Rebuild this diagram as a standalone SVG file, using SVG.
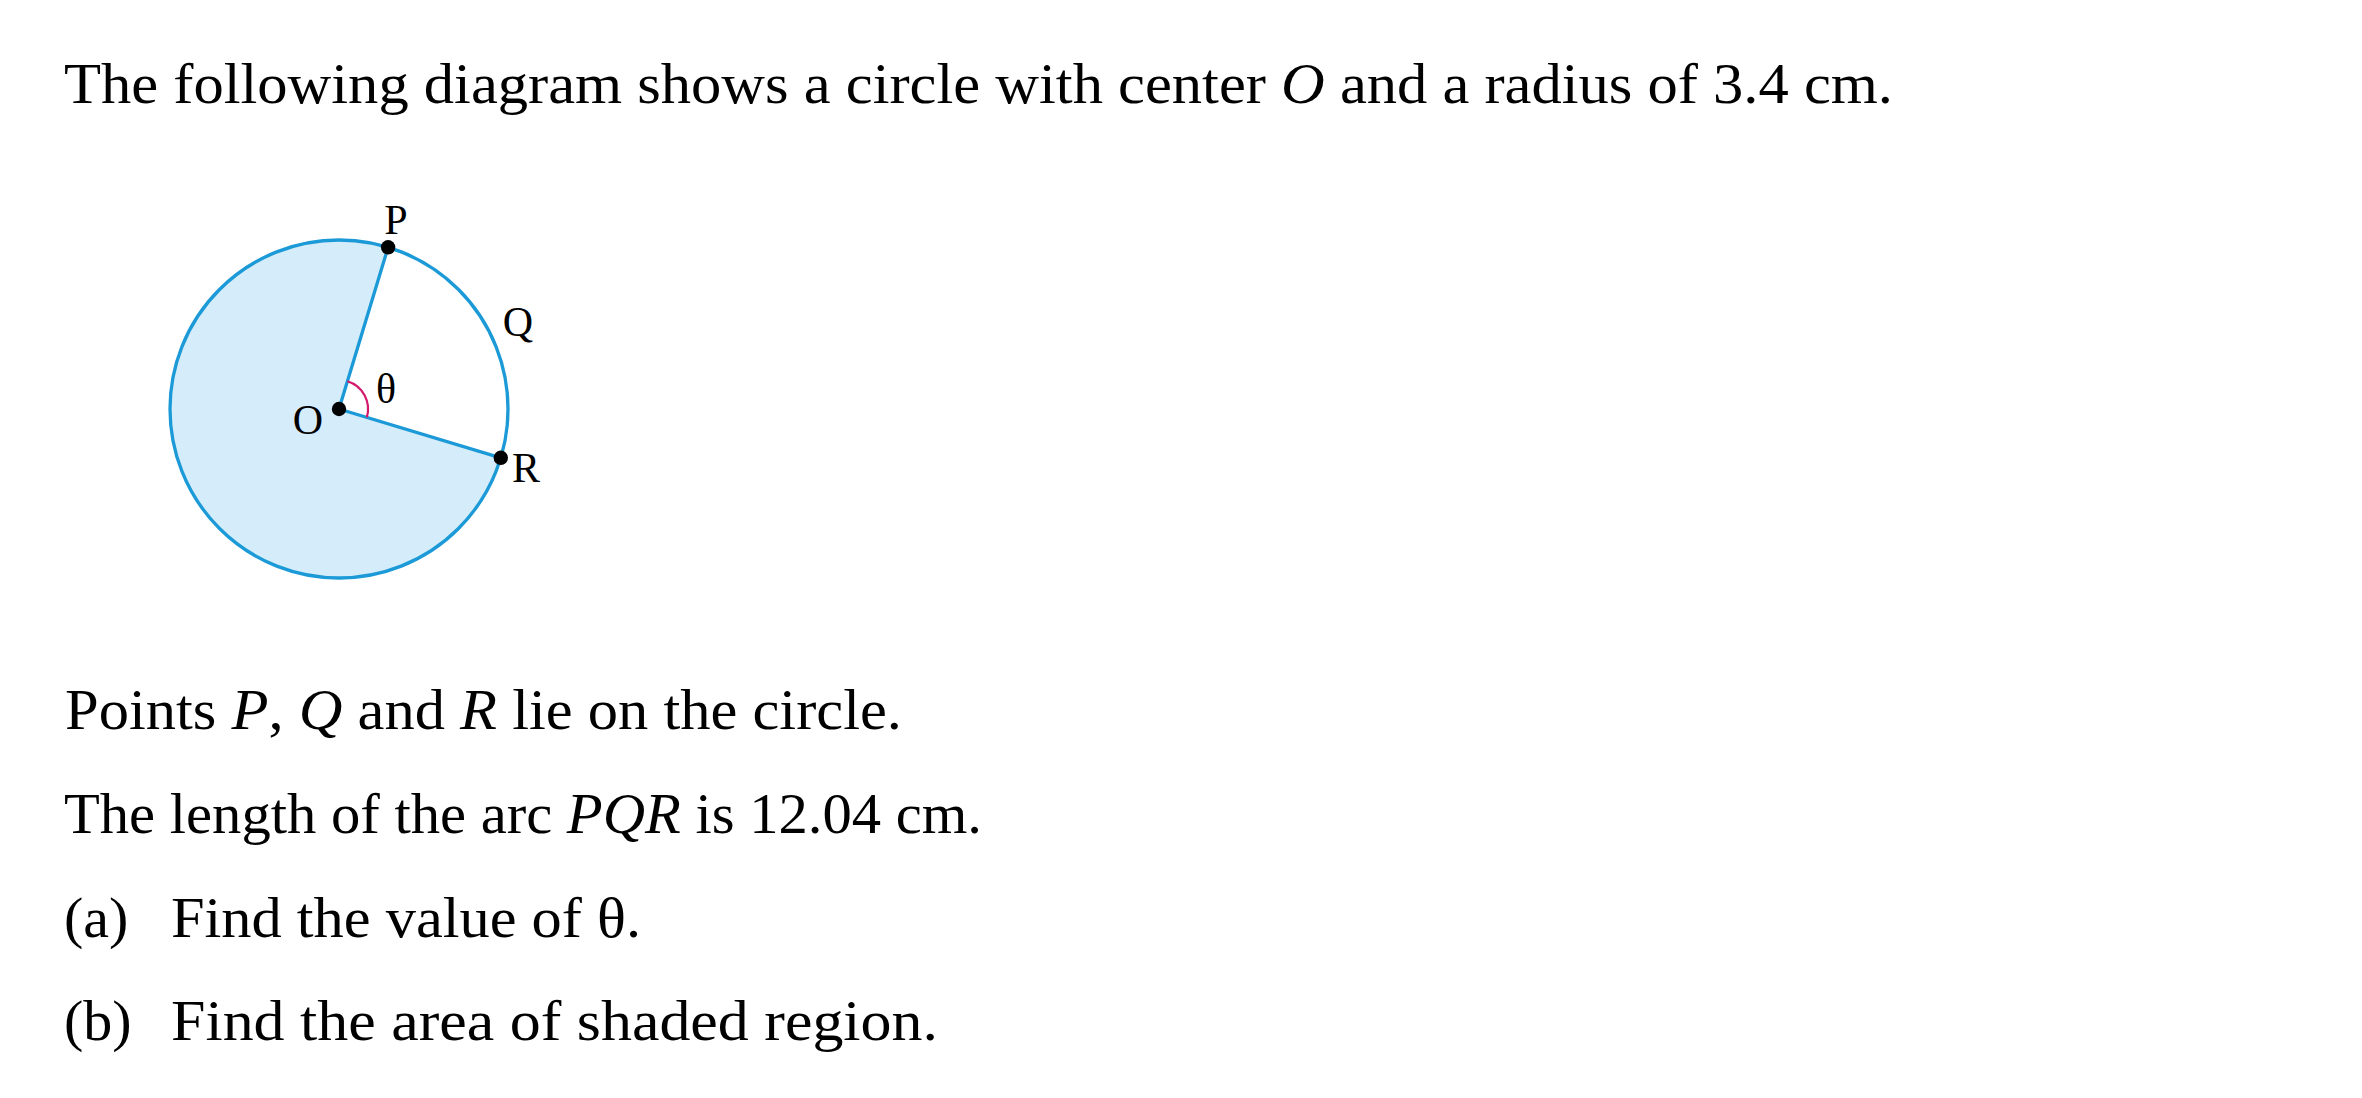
<svg xmlns="http://www.w3.org/2000/svg" width="2362" height="1098" viewBox="0 0 2362 1098">
<style>
.t{font-family:"Liberation Serif","Times New Roman",serif;font-size:58px;fill:#000}
.i{font-style:italic}
.lbl{font-family:"Liberation Serif","Times New Roman",serif;font-size:42px;fill:#000}
.edge{stroke:#1b9ad7;stroke-width:3.3;fill:none;stroke-linecap:round}
.dot{fill:#000}
</style>
<rect width="2362" height="1098" fill="#fff"/>
<g id="text">
<text class="t" x="64" y="103" textLength="1829" lengthAdjust="spacingAndGlyphs">The following diagram shows a circle with center <tspan class="i">O</tspan> and a radius of 3.4 cm.</text>
<text class="t" x="65" y="729" textLength="837" lengthAdjust="spacingAndGlyphs">Points <tspan class="i">P</tspan>, <tspan class="i">Q</tspan> and <tspan class="i">R</tspan> lie on the circle.</text>
<text class="t" x="64" y="833" textLength="918" lengthAdjust="spacingAndGlyphs">The length of the arc <tspan class="i">PQR</tspan> is 12.04 cm.</text>
<text class="t" x="64" y="937">(a)</text>
<text class="t" x="171" y="937" textLength="470" lengthAdjust="spacingAndGlyphs">Find the value of θ.</text>
<text class="t" x="64" y="1040">(b)</text>
<text class="t" x="171" y="1040" textLength="767" lengthAdjust="spacingAndGlyphs">Find the area of shaded region.</text>
</g>
<g id="figure">
<g id="shaded-sector">
<path d="M339 409 L500.8 457.8 A169 169 0 1 1 388.1 247.3 Z" fill="#d5ecfa" stroke="none"/>
</g>
<g id="circle">
<circle cx="339" cy="409" r="169" class="edge"/>
</g>
<g id="connectors">
<line x1="339" y1="409" x2="388.1" y2="247.3" class="edge"/>
<line x1="339" y1="409" x2="500.8" y2="457.8" class="edge"/>
<path d="M347.4 381.3 A29 29 0 0 1 366.8 417.4" fill="none" stroke="#d4186c" stroke-width="2.2"/>
</g>
<g id="node-O">
<circle cx="339" cy="409" r="7.2" class="dot"/>
<text class="lbl" x="308" y="434" text-anchor="middle">O</text>
</g>
<g id="node-P">
<circle cx="388.1" cy="247.3" r="7.2" class="dot"/>
<text class="lbl" x="396" y="234" text-anchor="middle">P</text>
</g>
<g id="node-Q">
<text class="lbl" x="518" y="336" text-anchor="middle">Q</text>
</g>
<g id="node-R">
<circle cx="500.8" cy="457.8" r="7.2" class="dot"/>
<text class="lbl" x="512" y="482">R</text>
</g>
<g id="angle-label">
<text class="lbl" x="386" y="403" text-anchor="middle">θ</text>
</g>
</g>
</svg>
